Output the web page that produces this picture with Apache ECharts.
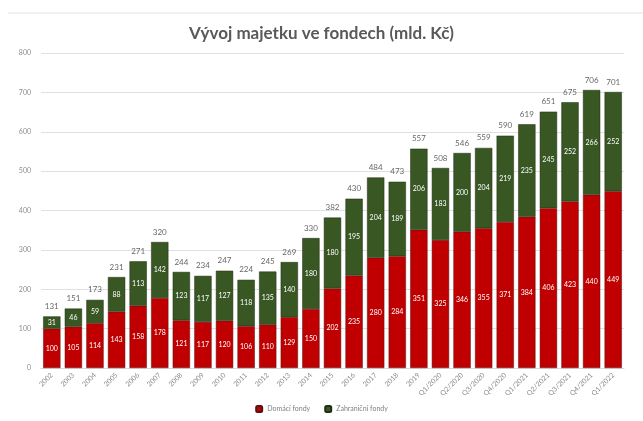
<!DOCTYPE html>
<html>
<head>
<meta charset="utf-8">
<script src="https://cdn.jsdelivr.net/npm/echarts@6/dist/echarts.min.js"></script>
<style>
  html, body { margin: 0; padding: 0; background: #fff; }
  #main { width: 643px; height: 421px; }
</style>
</head>
<body>
<div id="main"></div>
<script>
// kategorie (roky a čtvrtletí)
var categories = ['2002', '2003', '2004', '2005', '2006', '2007', '2008', '2009', '2010',
  '2011', '2012', '2013', '2014', '2015', '2016', '2017', '2018', '2019',
  'Q1/2020', 'Q2/2020', 'Q3/2020', 'Q4/2020', 'Q1/2021', 'Q2/2021', 'Q3/2021', 'Q4/2021', 'Q1/2022'];
// dolní část sloupce (červená)
var domaciFondy = [100, 105, 114, 143, 158, 178, 121, 117, 120, 106, 110, 129, 150, 202, 235, 280, 284, 351,
  325, 346, 355, 371, 384, 406, 423, 440, 449];
// horní část sloupce (zelená)
var zahranicniFondy = [31, 46, 59, 88, 113, 142, 123, 117, 127, 118, 135, 140, 180, 180, 195, 204, 189, 206,
  183, 200, 204, 219, 235, 245, 252, 266, 252];
// součty nad sloupci
var celkem = [131, 151, 173, 231, 271, 320, 244, 234, 247, 224, 245, 269, 330, 382, 430, 484, 473, 557,
  508, 546, 559, 590, 619, 651, 675, 706, 701];
var yTicks = [0, 100, 200, 300, 400, 500, 600, 700, 800];

var chart = echarts.init(document.getElementById('main'));
var font = 'Lato, "Open Sans", sans-serif';

var option = {
  backgroundColor: '#fff',
  animation: false,
  textStyle: { fontFamily: font },
  title: {
    text: 'Vývoj majetku ve fondech (mld. Kč)',
    left: 'center',
    top: 20,
    textStyle: { fontSize: 17, fontWeight: 'bold', color: '#595959', fontFamily: font }
  },
  graphic: [{
    type: 'line',
    shape: { x1: 8, y1: 13, x2: 643, y2: 13 },
    style: { stroke: '#e3e3e3', lineWidth: 1 }
  }],
  legend: {
    bottom: 3,
    left: 'center',
    itemWidth: 6,
    itemHeight: 6,
    itemGap: 14,
    data: ['Domácí fondy', 'Zahraniční fondy'],
    textStyle: { fontSize: 7, color: '#7f7f7f' }
  },
  grid: { left: 41, right: 19, top: 53, bottom: 53 },
  xAxis: {
    type: 'category',
    data: categories,
    axisTick: { show: false },
    axisLine: { lineStyle: { color: '#d9d9d9' } },
    axisLabel: { rotate: 45, fontSize: 7, color: '#8c8c8c', margin: 6, interval: 0 }
  },
  yAxis: {
    type: 'value',
    min: yTicks[0],
    max: yTicks[yTicks.length - 1],
    interval: 100,
    axisLabel: { fontSize: 7, color: '#8c8c8c', margin: 10 },
    axisLine: { show: false },
    axisTick: { show: false },
    splitLine: { lineStyle: { color: '#e0e0e0' } }
  },
  series: [{
    name: 'Domácí fondy',
    type: 'bar',
    stack: 'majetek',
    barCategoryGap: '20%',
    data: domaciFondy,
    itemStyle: { color: '#c00000', borderColor: '#5a1010', borderWidth: 0.5 },
    label: { show: true, position: 'inside', color: '#fff', fontSize: 7 }
  }, {
    name: 'Zahraniční fondy',
    type: 'bar',
    stack: 'majetek',
    data: zahranicniFondy,
    itemStyle: { color: '#385723', borderColor: '#1f2f14', borderWidth: 0.5 },
    label: { show: true, position: 'inside', color: '#fff', fontSize: 7 }
  }, {
    // neviditelná řada jen pro popisky součtů
    name: 'Celkem',
    type: 'scatter',
    data: celkem,
    symbolSize: 2,
    itemStyle: { color: 'rgba(0,0,0,0)' },
    tooltip: { show: false },
    label: { show: true, position: 'top', distance: 5, color: '#404040', fontSize: 8 },
    z: 5
  }]
};
chart.setOption(option);
</script>
</body>
</html>
